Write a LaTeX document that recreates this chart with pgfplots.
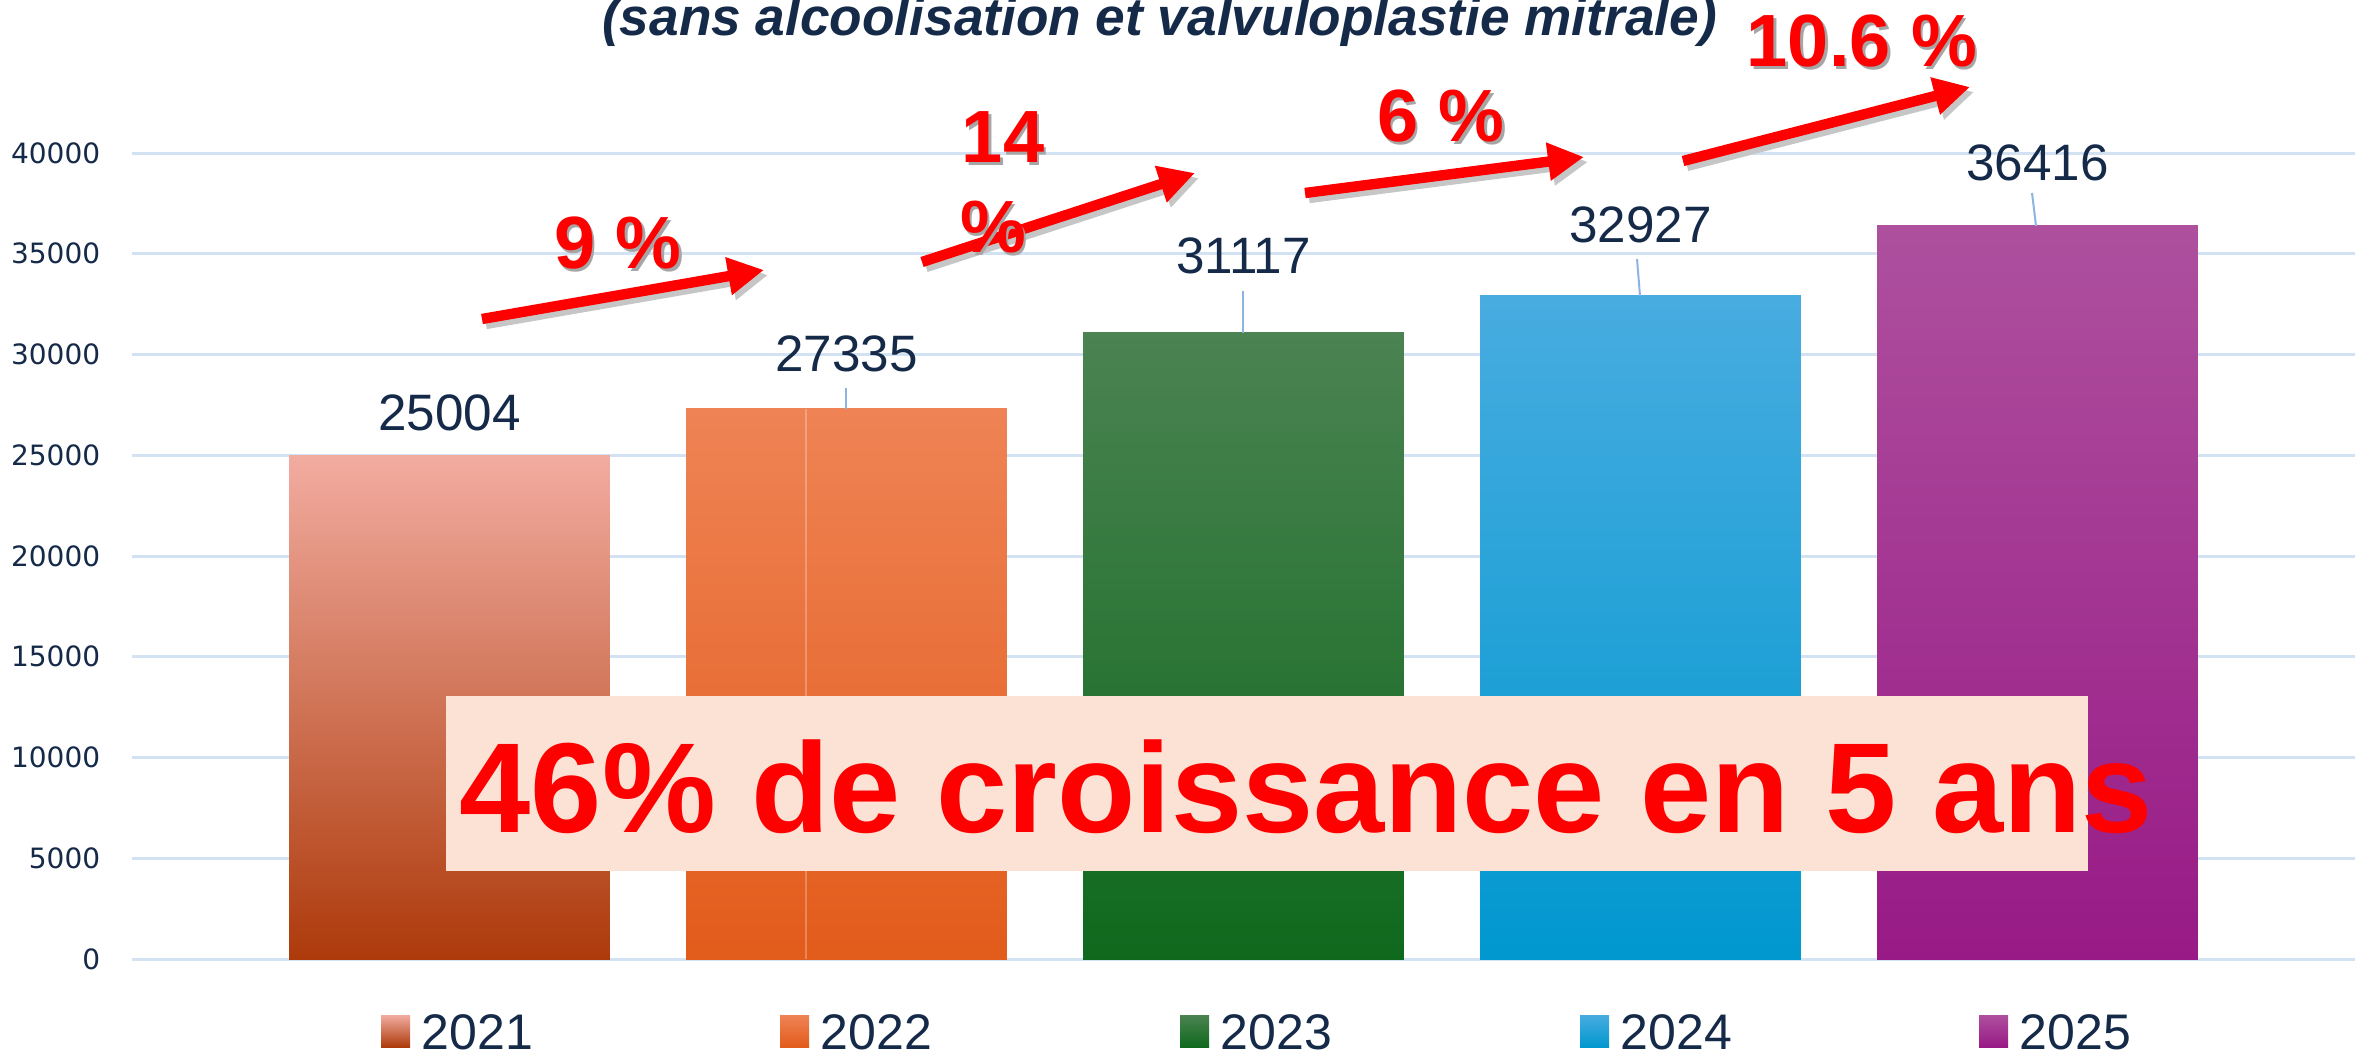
\documentclass[border=0pt]{standalone}
\usepackage{fontspec}
\setmainfont{Liberation Sans}
\newfontfamily\dejavu{DejaVu Sans}
\usepackage{pgfplots}
\pgfplotsset{compat=1.18}
\usetikzlibrary{arrows.meta}
\definecolor{navy}{HTML}{152A48}
\definecolor{gridblue}{HTML}{D3E2F3}
\definecolor{leader}{HTML}{8DB3E2}
\definecolor{boxfill}{HTML}{FBE2D5}
\definecolor{redtxt}{HTML}{FF0000}
\definecolor{cAt}{HTML}{F2ACA0}\definecolor{cAb}{HTML}{AD3A0B}
\definecolor{cBt}{HTML}{EF8355}\definecolor{cBb}{HTML}{E25C1B}
\definecolor{cCt}{HTML}{4B8352}\definecolor{cCb}{HTML}{0F691D}
\definecolor{cDt}{HTML}{48ACE0}\definecolor{cDb}{HTML}{0098CF}
\definecolor{cEt}{HTML}{AE509E}\definecolor{cEb}{HTML}{981A86}
\pgfplotsset{
  lbl/.style={nodes near coords, every node near coord/.append style={anchor=base, yshift=#1, inner sep=0pt, text=navy, font=\fontsize{12.8}{14}\selectfont}},
}
\newcommand{\pct}[3]{%
  \node[anchor=base, inner sep=0pt, text=gray!70, font=\bfseries\fontsize{18.5}{20}\selectfont] at (#1+2.5,#2+2.5) {#3};
  \node[anchor=base, inner sep=0pt, text=redtxt, font=\bfseries\fontsize{18.5}{20}\selectfont] at (#1,#2) {#3};}
\newcommand{\arr}[4]{%
  \draw[gray!45, line width=2.6pt, -{Triangle[width=9pt,length=9pt]}] (#1+4,#2+5) -- (#3+4,#4+5);
  \draw[redtxt, line width=2.6pt, -{Triangle[width=9pt,length=9pt]}] (#1,#2) -- (#3,#4);}
\begin{document}
\begin{tikzpicture}
\begin{axis}[
  at={(33pt,-239.75pt)}, anchor=south west,
  scale only axis, width=555.75pt, height=201.5pt,
  xmin=-0.8, xmax=4.8, ymin=0, ymax=40000,
  ytick={0,5000,...,40000}, xtick=\empty,
  ymajorgrids, grid style={gridblue, line width=0.75pt},
  axis line style={draw=none}, major tick length=0pt,
  yticklabel style={font=\dejavu\fontsize{7}{8}\selectfont, text=navy, anchor=east, inner sep=0pt, xshift=-7.75pt},
  scaled y ticks=false,
  /pgf/number format/1000 sep={},
  /pgf/number format/assume math mode=true,
  ybar, bar width=0.808, clip=false,
]
\addplot[ybar, bar shift=0pt, draw=none, top color=cAt, bottom color=cAb, lbl=6.25pt] coordinates {(0,25004)};
\addplot[ybar, bar shift=0pt, draw=none, top color=cBt, bottom color=cBb, lbl=9.25pt] coordinates {(1,27335)};
\addplot[ybar, bar shift=0pt, draw=none, top color=cCt, bottom color=cCb, lbl=14.75pt] coordinates {(2,31117)};
\addplot[ybar, bar shift=0pt, draw=none, top color=cDt, bottom color=cDb, lbl=13.25pt] coordinates {(3,32927)};
\addplot[ybar, bar shift=0pt, draw=none, top color=cEt, bottom color=cEb, lbl=11.25pt] coordinates {(4,36416)};
\end{axis}
\begin{scope}[x=0.25pt, y=-0.25pt]
  % faint line inside 2022 bar
  \draw[white, opacity=0.25, line width=0.4pt] (806,409) -- (806,959);
  % leader lines
  \draw[leader, line width=0.5pt] (846,388) -- (846,409);
  \draw[leader, line width=0.5pt] (1243,291) -- (1243,333);
  \draw[leader, line width=0.5pt] (1637,259) -- (1640,296);
  \draw[leader, line width=0.5pt] (2032,193) -- (2036,226);
  % title
  \node[anchor=base, inner sep=0pt, text=navy, font=\bfseries\itshape\fontsize{13.3}{15}\selectfont] at (1159.5,36) {(sans alcoolisation et valvuloplastie mitrale)};
  % arrows
  \arr{482}{319}{764}{270}
  \arr{922}{262}{1195}{173}
  \arr{1305}{193}{1584}{157}
  \arr{1683}{161}{1970}{87}
  % percentages
  \pct{618}{269}{9 \%}
  \pct{1003}{163}{14}
  \pct{993}{253}{\%}
  \pct{1441}{142}{6 \%}
  \pct{1862}{67}{10.6 \%}
  % big box
  \fill[boxfill] (446,696) rectangle (2088,871);
  \node[anchor=base west, inner sep=0pt, text=redtxt, font=\bfseries\fontsize{32}{36}\selectfont] at (459,832) {46\% de croissance en 5 ans};
  % legend
  \foreach \x/\t/\b/\y in {381/cAt/cAb/2021, 780/cBt/cBb/2022, 1180/cCt/cCb/2023, 1580/cDt/cDb/2024, 1979/cEt/cEb/2025}{
    \shade[top color=\t, bottom color=\b] (\x,1015) rectangle (\x+29,1047);
    \node[anchor=base west, inner sep=0pt, text=navy, font=\fontsize{12.5}{14}\selectfont] at (\x+40,1049) {\y};
  }
  \pgfresetboundingbox
  \path[use as bounding box] (0,0) rectangle (2372,1058);
\end{scope}
\end{tikzpicture}
\end{document}
